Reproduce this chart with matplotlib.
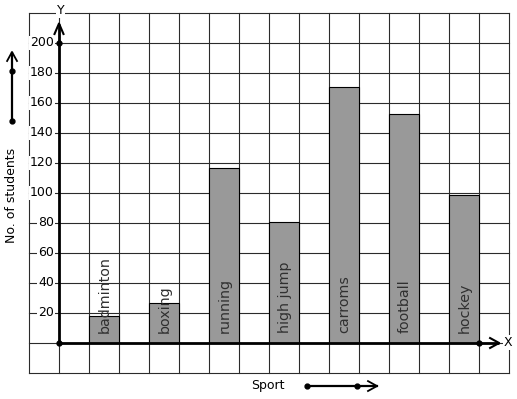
import numpy as np
import matplotlib
matplotlib.use("Agg")
import matplotlib.pyplot as plt

# data
sports = ["badminton", "boxing", "running", "high jump", "carroms", "football", "hockey"]
students = [18, 27, 117, 81, 171, 153, 99]
y_ticks = [20, 40, 60, 80, 100, 120, 140, 160, 180, 200]

# one grid cell = 30 px wide, 20 students high
px_x = 1 / 30
px_y = 20 / 30

fig = plt.figure(figsize=(5.17, 3.99), dpi=100)
ax = fig.add_axes([0, 0, 1, 1])
ax.set_xlim(-59 * px_x, (517 - 59) * px_x)
ax.set_ylim(-(399 - 343) * px_y, 343 * px_y)
ax.axis("off")

# grid
grid_kw = dict(color="#2b2b2b", lw=0.8, zorder=1)
for gx in range(-1, 16):
    ax.plot([gx, gx], [-20, 220], **grid_kw)
for gy in range(-20, 221, 20):
    ax.plot([-1, 15], [gy, gy], **grid_kw)

# bars
xpos = np.arange(len(sports)) * 2 + 1
ax.bar(xpos, students, width=1, align="edge", color="#999999",
       edgecolor="black", linewidth=0.8, zorder=2)
for x, name in zip(xpos, sports):
    ax.text(x + 0.52, 6.5, name, rotation=90, ha="center", va="bottom",
            fontsize=10.3, color="#303030", zorder=3)

# y tick labels
for t in y_ticks:
    ax.text(-0.17, t, str(t), ha="right", va="center", fontsize=9,
            color="black", zorder=3,
            bbox=dict(facecolor="white", edgecolor="none", pad=0.6))

# axes with arrows
ax.plot([0, 0], [0, 212.5], color="black", lw=2, zorder=4, solid_capstyle="butt")
ax.plot([-0.15, 0, 0.15], [206, 213, 206], color="black", lw=1.5, zorder=4)
ax.plot([0, 14.67], [0, 0], color="black", lw=2, zorder=4, solid_capstyle="butt")
ax.plot([14.37, 14.67, 14.37], [3.3, 0, -3.3], color="black", lw=1.5, zorder=4)
ax.plot([0, 0, 14], [0, 200, 0], "o", color="black", ms=3.5, zorder=5)

ax.text(0.05, 222, "Y", ha="center", va="center", fontsize=9, zorder=5,
        bbox=dict(facecolor="white", edgecolor="none", pad=0.8))
ax.text(14.98, 0.3, "X", ha="center", va="center", fontsize=9, zorder=5,
        bbox=dict(facecolor="white", edgecolor="none", pad=0.8))

# axis titles with arrows
ax.text(-1.567, 98.7, "No. of students", rotation=90, ha="center", va="center",
        fontsize=9)
ax.plot([-1.567, -1.567], [148, 193.5], color="black", lw=1.6)
ax.plot([-1.73, -1.567, -1.4], [188, 194, 188], color="black", lw=1.3)
ax.plot([-1.567, -1.567], [148, 181.3], "o", color="black", ms=3.5)

ax.text(6.97, -28, "Sport", ha="center", va="center", fontsize=9)
ax.plot([8.27, 10.6], [-28.7, -28.7], color="black", lw=1.6)
ax.plot([10.3, 10.6, 10.3], [-25.4, -28.7, -32], color="black", lw=1.3)
ax.plot([8.27, 9.93], [-28.7, -28.7], "o", color="black", ms=3.5)

fig.savefig("out.png", dpi=100, facecolor="white")
